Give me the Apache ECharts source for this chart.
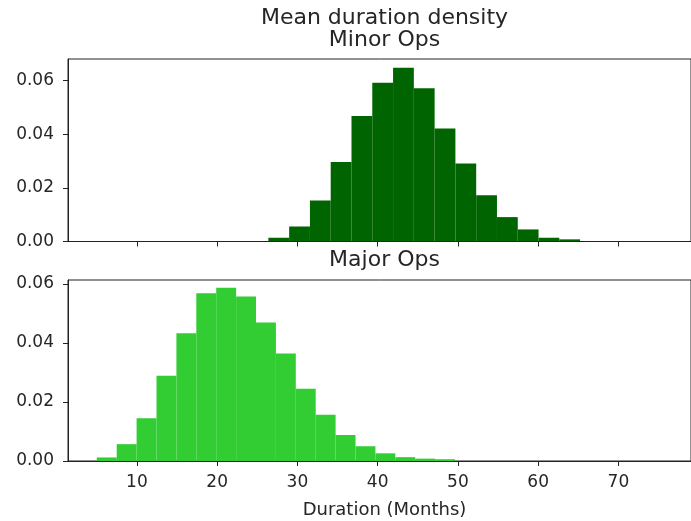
<!DOCTYPE html>
<html>
<head>
<meta charset="utf-8">
<script src="https://cdn.jsdelivr.net/npm/echarts@6/dist/echarts.min.js"></script>
<style>
  html, body { margin: 0; padding: 0; background: #fff; }
  #chart { width: 691px; height: 521px; }
</style>
</head>
<body>
<div id="chart"></div>
<script>
// histogram bins (left edges + one closing edge), density per bin
const minorEdges = [26.38, 28.97, 31.56, 34.15, 36.74, 39.33, 41.92, 44.51, 47.10, 49.69, 52.28, 54.87, 57.46, 60.05, 62.64, 65.23];
const minorDensity = [0.0014, 0.0056, 0.0153, 0.0297, 0.0468, 0.0592, 0.0648, 0.0572, 0.0422, 0.0291, 0.0173, 0.0091, 0.0045, 0.0014, 0.0008];

const majorEdges = [5.00, 7.48, 9.96, 12.44, 14.92, 17.40, 19.88, 22.36, 24.84, 27.32, 29.80, 32.28, 34.76, 37.24, 39.72, 42.20, 44.68, 47.16, 49.64];
const majorDensity = [0.0012, 0.0057, 0.0145, 0.0289, 0.0433, 0.0568, 0.0587, 0.0557, 0.0469, 0.0364, 0.0245, 0.0157, 0.0088, 0.0050, 0.0026, 0.0013, 0.0008, 0.0006];

const xTicks = [10, 20, 30, 40, 50, 60, 70];
const yTicks = [0, 0.02, 0.04, 0.06];

const toRows = (edges, dens) => dens.map((d, i) => [edges[i], edges[i + 1], d]);

const chart = echarts.init(document.getElementById('chart'));

const histItem = (params, api) => {
  const p0 = api.coord([api.value(0), api.value(2)]);
  const p1 = api.coord([api.value(1), 0]);
  return {
    type: 'rect',
    shape: { x: p0[0], y: p0[1], width: p1[0] - p0[0], height: p1[1] - p0[1] },
    style: api.style()
  };
};

const axisText = { color: '#262626', fontSize: 17, fontFamily: 'DejaVu Sans' };

const makeX = (gridIndex, showLabels) => ({
  type: 'value',
  gridIndex: gridIndex,
  min: 1.41,
  max: 79.05,
  z: 10,
  splitLine: { show: false },
  axisLine: { show: true, onZero: false, lineStyle: { color: '#222', width: 1 } },
  axisTick: { show: true, length: 5, customValues: xTicks, lineStyle: { color: '#222' } },
  axisLabel: Object.assign({ show: showLabels, margin: 13, customValues: xTicks }, axisText)
});

const makeY = (gridIndex, max) => ({
  type: 'value',
  gridIndex: gridIndex,
  min: 0,
  max: max,
  z: 10,
  splitLine: { show: false },
  axisLine: { show: true, lineStyle: { color: '#222', width: 1 } },
  axisTick: { show: true, length: 5, customValues: yTicks, lineStyle: { color: '#222' } },
  axisLabel: Object.assign({
    margin: 14,
    customValues: yTicks,
    formatter: v => v.toFixed(2)
  }, axisText)
});

const titleFont = '22px "DejaVu Sans"';

chart.setOption({
  backgroundColor: '#fff',
  animation: false,
  graphic: [
    { type: 'text', x: 384.5, y: 18, style: { text: 'Mean duration density', font: titleFont, fill: '#262626', textAlign: 'center', textVerticalAlign: 'middle' } },
    { type: 'text', x: 384.5, y: 40, style: { text: 'Minor Ops', font: titleFont, fill: '#262626', textAlign: 'center', textVerticalAlign: 'middle' } },
    { type: 'text', x: 384.5, y: 260, style: { text: 'Major Ops', font: titleFont, fill: '#262626', textAlign: 'center', textVerticalAlign: 'middle' } },
    { type: 'text', x: 384.5, y: 510, style: { text: 'Duration (Months)', font: '18px "DejaVu Sans"', fill: '#262626', textAlign: 'center', textVerticalAlign: 'middle' } }
  ],
  grid: [
    { left: 68, top: 59, right: -10, height: 182.5, show: true, borderColor: '#222', borderWidth: 1 },
    { left: 68, top: 280, right: -10, height: 181, show: true, borderColor: '#222', borderWidth: 1 }
  ],
  xAxis: [makeX(0, false), makeX(1, true)],
  yAxis: [makeY(0, 0.0681), makeY(1, 0.0613)],
  series: [
    {
      name: 'Minor Ops',
      type: 'custom',
      xAxisIndex: 0,
      yAxisIndex: 0,
      renderItem: histItem,
      itemStyle: { color: '#006400' },
      encode: { x: [0, 1], y: 2 },
      data: toRows(minorEdges, minorDensity)
    },
    {
      name: 'Major Ops',
      type: 'custom',
      xAxisIndex: 1,
      yAxisIndex: 1,
      renderItem: histItem,
      itemStyle: { color: '#32cd32' },
      encode: { x: [0, 1], y: 2 },
      data: toRows(majorEdges, majorDensity)
    }
  ]
});
</script>
</body>
</html>
